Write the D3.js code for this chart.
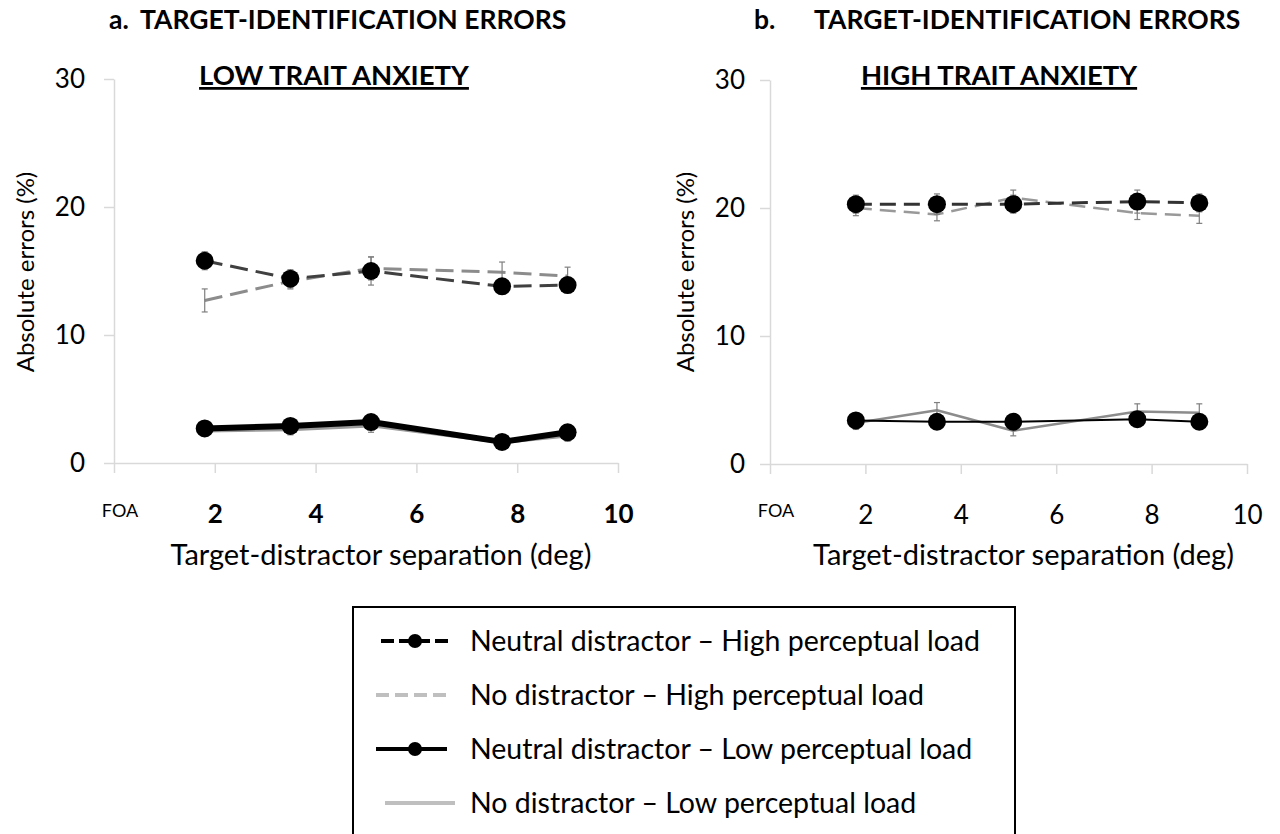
<!DOCTYPE html>
<html>
<head>
<meta charset="utf-8">
<script src="https://cdn.jsdelivr.net/npm/d3@7"></script>
<style>
  body { margin: 0; background: #fff; }
  svg { font-family: Lato, "Open Sans", sans-serif; }
</style>
</head>
<body>
<svg id="chart" width="1280" height="834"></svg>
<script>
// values
const separation = [1.8, 3.5, 5.1, 7.7, 9.0];
const xTickValues = [0, 2, 4, 6, 8, 10];
const yTickValues = [0, 10, 20, 30];

const legendLabels = [
    "Neutral distractor \u2013 High perceptual load",
    "No distractor \u2013 High perceptual load",
    "Neutral distractor \u2013 Low perceptual load",
    "No distractor \u2013 Low perceptual load"
];

// a. low trait anxiety
const lowNeutralHigh = [15.8, 14.4, 15.0, 13.8, 13.9];
const lowNeutralHighErr = [0.7, 0.7, 1.1, 0.5, 0.6];
const lowNoneHigh = [12.7, 14.2, 15.2, 14.9, 14.6];
const lowNoneHighErr = [0.9, 0.6, 0.9, 0.8, 0.7];
const lowNeutralLow = [2.7, 2.9, 3.2, 1.65, 2.4];
const lowNeutralLowErr = [0.3, 0.4, 0.5, 0.3, 0.5];
const lowNoneLow = [2.5, 2.6, 2.9, 1.6, 2.1];
const lowNoneLowErr = [0.3, 0.4, 0.5, 0.3, 0.4];

// b. high trait anxiety
const highNeutralHigh = [20.3, 20.3, 20.3, 20.5, 20.4];
const highNeutralHighErr = [0.7, 0.8, 0.7, 0.9, 0.7];
const highNoneHigh = [20.0, 19.5, 20.8, 19.6, 19.4];
const highNoneHighErr = [0.6, 0.5, 0.6, 0.5, 0.6];
const highNeutralLow = [3.4, 3.3, 3.3, 3.5, 3.3];
const highNeutralLowErr = [0.5, 0.4, 0.4, 0.5, 0.4];
const highNoneLow = [3.2, 4.2, 2.6, 4.1, 4.0];
const highNoneLowErr = [0.5, 0.6, 0.4, 0.6, 0.7];

const svg = d3.select("#chart");
const axisColor = "#d9d9d9";

const panels = [
    {
        letter: "a.", title: "TARGET-IDENTIFICATION ERRORS", titleX: 109, bodyX: 140,
        sub: "LOW TRAIT ANXIETY", subX: 334,
        xRange: [114, 618], yRange: [463, 79], ytitleX: 26, yPad: 19, xBold: true,
        series: [
            { v: lowNoneLow, e: lowNoneLowErr, color: "#9a9a9a", w: 3, dash: null, dots: false },
            { v: lowNoneHigh, e: lowNoneHighErr, color: "#8c8c8c", w: 3, dash: "18,8", dots: false },
            { v: lowNeutralHigh, e: lowNeutralHighErr, color: "#404040", w: 3, dash: "18,8", dots: true },
            { v: lowNeutralLow, e: lowNeutralLowErr, color: "#000", w: 6, dash: null, dots: true }
        ]
    },
    {
        letter: "b.", title: "TARGET-IDENTIFICATION ERRORS", titleX: 754, bodyX: 814,
        sub: "HIGH TRAIT ANXIETY", subX: 999,
        xRange: [770, 1247], yRange: [464, 80], ytitleX: 686, yPad: 15, xBold: false,
        series: [
            { v: highNoneLow, e: highNoneLowErr, color: "#8c8c8c", w: 2.5, dash: null, dots: false },
            { v: highNoneHigh, e: highNoneHighErr, color: "#999", w: 2.5, dash: "16,8", dots: false },
            { v: highNeutralHigh, e: highNeutralHighErr, color: "#333", w: 3, dash: "16,8", dots: true },
            { v: highNeutralLow, e: highNeutralLowErr, color: "#000", w: 2, dash: null, dots: true }
        ]
    }
];

panels.forEach(p => {
    const x = d3.scaleLinear().domain([0, 10]).range(p.xRange);
    const y = d3.scaleLinear().domain([0, 30]).range(p.yRange);
    const g = svg.append("g");

    // titles
    g.append("text")
        .attr("x", p.titleX).attr("y", 29)
        .style("font-size", "26.5px").style("font-weight", "bold")
        .text(p.letter);
    g.append("text")
        .attr("x", p.bodyX).attr("y", 29)
        .style("font-size", "26.5px").style("font-weight", "bold")
        .text(p.title);

    g.append("text")
        .attr("x", p.subX).attr("y", 85)
        .attr("text-anchor", "middle")
        .style("font-size", "27.5px").style("font-weight", "bold")
        .style("text-decoration", "underline")
        .text(p.sub);

    // axes
    const yAxis = g.append("g")
        .attr("transform", `translate(${p.xRange[0]},0)`)
        .call(d3.axisLeft(y).tickValues(yTickValues).tickSize(10).tickSizeOuter(0).tickPadding(p.yPad));
    const xAxis = g.append("g")
        .attr("transform", `translate(0,${p.yRange[0]})`)
        .call(d3.axisBottom(x).tickValues(xTickValues).tickSize(10).tickSizeOuter(0).tickPadding(32)
            .tickFormat(d => d === 0 ? "" : d));

    [xAxis, yAxis].forEach(a => {
        a.select(".domain").attr("stroke", axisColor).attr("stroke-width", 1.5);
        a.selectAll(".tick line").attr("stroke", axisColor).attr("stroke-width", 1.5);
        a.selectAll("text").attr("fill", "#000").style("font-size", "26px").style("font-family", "Lato, sans-serif");
    });
    if (p.xBold) xAxis.selectAll("text").style("font-weight", "bold");

    g.append("text")
        .attr("x", x(0) + 6).attr("y", 517)
        .attr("text-anchor", "middle")
        .style("font-size", "18px")
        .text("FOA");

    g.append("text")
        .attr("x", (p.xRange[0] + p.xRange[1]) / 2 + 15).attr("y", 565)
        .attr("text-anchor", "middle")
        .style("font-size", "29px")
        .text("Target-distractor separation (deg)");

    g.append("text")
        .attr("transform", `translate(${p.ytitleX},272) rotate(-90)`)
        .attr("text-anchor", "middle")
        .attr("dy", "0.35em")
        .style("font-size", "24px")
        .text("Absolute errors (%)");

    // series
    const line = d3.line().x((d, i) => x(separation[i])).y(d => y(d));

    p.series.forEach(s => {
        g.append("path")
            .datum(s.v)
            .attr("d", line)
            .attr("fill", "none")
            .attr("stroke", s.color)
            .attr("stroke-width", s.w)
            .attr("stroke-dasharray", s.dash)
            .attr("stroke-linejoin", "round");

        const eb = g.append("g").selectAll("g")
            .data(s.v)
            .join("g")
            .attr("stroke", "#7f7f7f")
            .attr("stroke-width", 1.2);
        eb.append("line")
            .attr("x1", (d, i) => x(separation[i])).attr("x2", (d, i) => x(separation[i]))
            .attr("y1", (d, i) => y(d - s.e[i])).attr("y2", (d, i) => y(d + s.e[i]));
        eb.append("line")
            .attr("x1", (d, i) => x(separation[i]) - 3).attr("x2", (d, i) => x(separation[i]) + 3)
            .attr("y1", (d, i) => y(d + s.e[i])).attr("y2", (d, i) => y(d + s.e[i]));
        eb.append("line")
            .attr("x1", (d, i) => x(separation[i]) - 3).attr("x2", (d, i) => x(separation[i]) + 3)
            .attr("y1", (d, i) => y(d - s.e[i])).attr("y2", (d, i) => y(d - s.e[i]));

        if (s.dots) {
            g.append("g").selectAll("circle")
                .data(s.v)
                .join("circle")
                .attr("cx", (d, i) => x(separation[i]))
                .attr("cy", d => y(d))
                .attr("r", 9)
                .attr("fill", "#000");
        }
    });
});

// legend
const legend = svg.append("g");
legend.append("rect")
    .attr("x", 353).attr("y", 607)
    .attr("width", 662).attr("height", 260)
    .attr("fill", "#fff").attr("stroke", "#000").attr("stroke-width", 2);

const legendStyles = [
    { color: "#000", dash: "13,5", dot: true, x1: 381, x2: 452 },
    { color: "#bfbfbf", dash: "13,6", dot: false, x1: 376, x2: 447 },
    { color: "#000", dash: null, dot: true, x1: 376, x2: 447 },
    { color: "#bfbfbf", dash: null, dot: false, x1: 385, x2: 455 }
];
const ly = d3.scalePoint().domain(d3.range(legendLabels.length)).range([641, 803]);

const rows = legend.selectAll("g.row")
    .data(legendLabels)
    .join("g")
    .attr("class", "row")
    .attr("transform", (d, i) => `translate(0,${ly(i)})`);
rows.append("line")
    .attr("x1", (d, i) => legendStyles[i].x1).attr("x2", (d, i) => legendStyles[i].x2)
    .attr("stroke", (d, i) => legendStyles[i].color)
    .attr("stroke-width", 4)
    .attr("stroke-dasharray", (d, i) => legendStyles[i].dash);
rows.filter((d, i) => legendStyles[i].dot)
    .append("circle")
    .attr("cx", 415).attr("r", 7).attr("fill", "#000");
rows.append("text")
    .attr("x", 470).attr("dy", "0.35em")
    .style("font-size", "28.5px")
    .text(d => d);
</script>
</body>
</html>
